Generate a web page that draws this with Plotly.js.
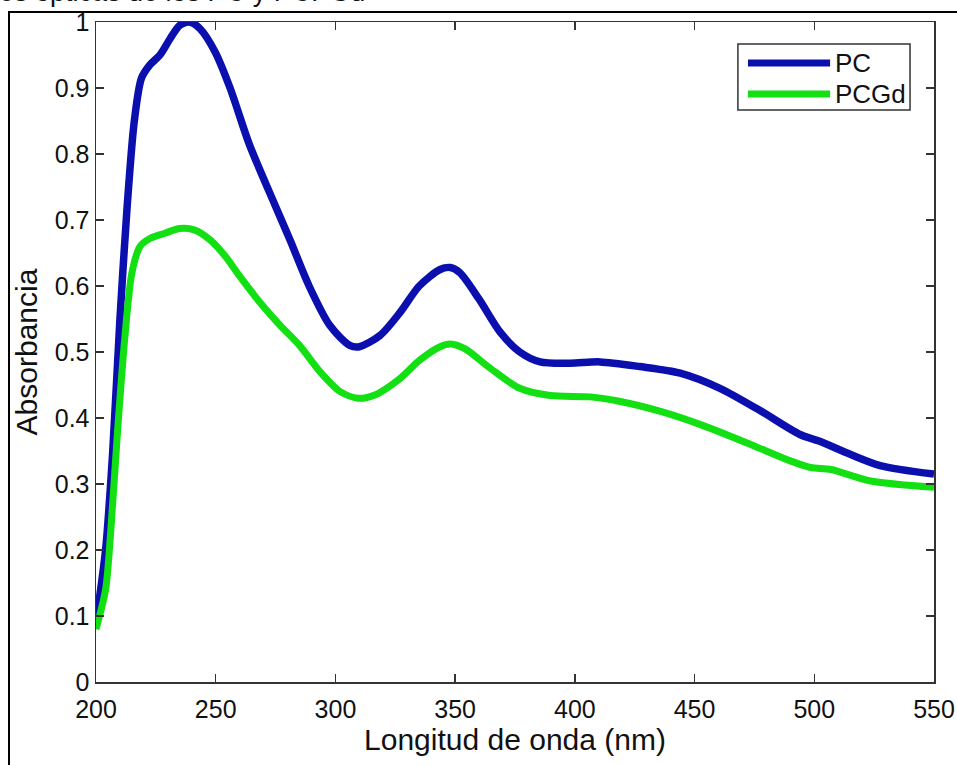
<!DOCTYPE html>
<html>
<head>
<meta charset="utf-8">
<script src="https://cdn.plot.ly/plotly-3.0.1.min.js"></script>
<style>html,body{margin:0;padding:0;background:#fff;}#chart{width:957px;height:765px;}</style>
</head>
<body>
<div id="chart"></div>
<script>
// Wavelength (nm) and absorbance values
const pcWavelength = [200, 204, 207, 210, 213, 216, 219, 222.5, 226.7, 231, 235, 239, 243.4, 249.7, 256, 264, 272.7, 281, 289, 297.7, 306, 310, 318.6, 327, 335, 343.7, 348, 352, 360, 368.8, 377, 385.5, 398, 410.5, 427, 444, 460.6, 477, 494, 502, 515, 527.5, 550];
const pcAbsorbance = [0.09, 0.2, 0.35, 0.55, 0.72, 0.85, 0.915, 0.935, 0.95, 0.975, 0.995, 1.0, 0.99, 0.955, 0.9, 0.815, 0.74, 0.67, 0.6, 0.54, 0.51, 0.508, 0.525, 0.56, 0.6, 0.625, 0.628, 0.62, 0.58, 0.53, 0.5, 0.485, 0.483, 0.485, 0.478, 0.468, 0.445, 0.412, 0.375, 0.365, 0.345, 0.328, 0.315];

const pcgdWavelength = [200, 204, 206, 209, 212, 215, 218.4, 222.5, 228.8, 235, 241, 247.6, 254, 260, 268.5, 277, 285, 293.6, 302, 309.4, 316.5, 327, 335, 343.7, 348, 354, 364.8, 377, 389.7, 406.4, 419, 435.8, 452.5, 473.4, 490, 498.5, 507, 523, 550];
const pcgdAbsorbance = [0.08, 0.14, 0.22, 0.38, 0.52, 0.62, 0.66, 0.672, 0.68, 0.687, 0.685, 0.67, 0.645, 0.615, 0.575, 0.54, 0.51, 0.47, 0.44, 0.43, 0.435, 0.46, 0.487, 0.508, 0.512, 0.505, 0.475, 0.445, 0.434, 0.432, 0.425, 0.41, 0.39, 0.36, 0.335, 0.325, 0.322, 0.305, 0.295];

const seriesNames = ['PC', 'PCGd'];
const seriesColors = ['#0a0fae', '#12e012'];
const xTicks = [200, 250, 300, 350, 400, 450, 500, 550];
const yTicks = [0, 0.1, 0.2, 0.3, 0.4, 0.5, 0.6, 0.7, 0.8, 0.9, 1];
const yTickLabels = ['0', '0.1', '0.2', '0.3', '0.4', '0.5', '0.6', '0.7', '0.8', '0.9', '1'];

const traces = [
  {x: pcWavelength, y: pcAbsorbance, name: seriesNames[0], type: 'scatter', mode: 'lines',
   line: {color: seriesColors[0], width: 7.5, shape: 'spline', smoothing: 0.8}},
  {x: pcgdWavelength, y: pcgdAbsorbance, name: seriesNames[1], type: 'scatter', mode: 'lines',
   line: {color: seriesColors[1], width: 7, shape: 'spline', smoothing: 0.8}}
];

const FONT = 'Liberation Sans, Arial, sans-serif';
const axisCommon = {
  showgrid: false, zeroline: false, showline: true, linecolor: '#333', linewidth: 1.5,
  mirror: 'ticks', ticks: 'inside', ticklen: 8, tickwidth: 1.5, tickcolor: '#333',
  tickfont: {family: FONT, size: 25, color: '#111'}
};

// legend box drawn in paper space (lines + labels) to match the long sample lines
const legendBox = {x0: 0.766, x1: 0.9714, y0: 0.8667, y1: 0.9667};
const legendRows = [0.9379, 0.8909];
const legendShapes = [
  {type: 'rect', xref: 'paper', yref: 'paper', x0: legendBox.x0, x1: legendBox.x1, y0: legendBox.y0, y1: legendBox.y1,
   line: {color: '#333', width: 1.5}, fillcolor: '#fff'}
];
const legendAnns = [];
seriesNames.forEach((name, i) => {
  legendShapes.push({type: 'line', xref: 'paper', yref: 'paper', x0: 0.778, x1: 0.876,
    y0: legendRows[i], y1: legendRows[i], line: {color: seriesColors[i], width: 7}});
  legendAnns.push({text: name, xref: 'paper', yref: 'paper', x: 0.879, y: legendRows[i],
    xanchor: 'left', yanchor: 'middle', showarrow: false, font: {family: FONT, size: 26, color: '#111'}});
});

const layout = {
  width: 957, height: 765,
  margin: {l: 96, r: 23, t: 22, b: 83},
  paper_bgcolor: '#fff', plot_bgcolor: '#fff',
  font: {family: FONT, color: '#111'},
  xaxis: Object.assign({}, axisCommon, {
    range: [200, 550], tickvals: xTicks, ticklabelstandoff: 4,
    title: {text: 'Longitud de onda (nm)', font: {size: 30, color: '#111'}, standoff: 4}
  }),
  yaxis: Object.assign({}, axisCommon, {
    range: [0, 1], tickvals: yTicks, ticktext: yTickLabels,
    title: {text: 'Absorbancia', font: {size: 30, color: '#111'}, standoff: 8}
  }),
  showlegend: false,
  shapes: [
    {type: 'rect', xref: 'paper', yref: 'paper', x0: -0.1038, x1: 1.1, y0: -0.3, y1: 1.0152,
     line: {color: '#000', width: 2}, fillcolor: 'rgba(0,0,0,0)', layer: 'below'}
  ].concat(legendShapes),
  annotations: [
    {text: 'es ópticas de los PC y PCPGd', xref: 'paper', yref: 'paper',
     x: -0.118, y: 1.045, xanchor: 'left', yanchor: 'middle', showarrow: false,
     font: {family: FONT, size: 27, color: '#111'}}
  ].concat(legendAnns)
};

Plotly.newPlot('chart', traces, layout, {displayModeBar: false, staticPlot: true});
</script>
</body>
</html>
